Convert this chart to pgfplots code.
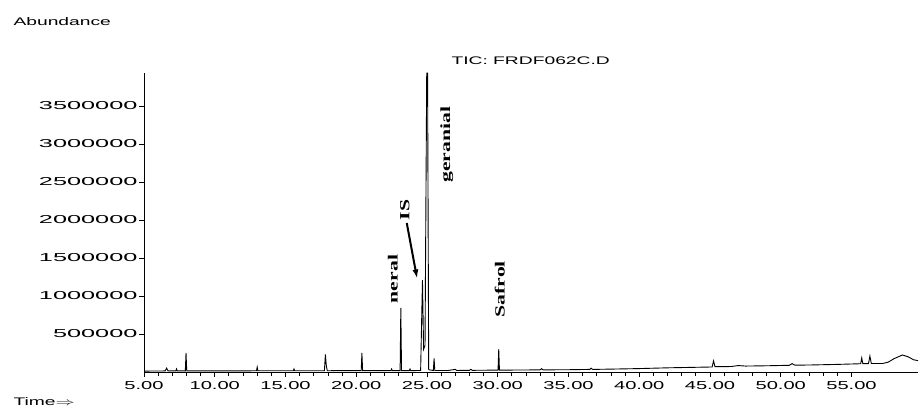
\documentclass[border=0pt]{standalone}
\usepackage{fontspec}
\usepackage{graphicx}
\usepackage{pgfplots}
\pgfplotsset{compat=1.18}
\usetikzlibrary{arrows.meta}
\setmainfont{Liberation Sans}
\newfontfamily\serifb{Liberation Serif}
\newcommand\wide[1]{\scalebox{1.75}[1]{#1}}
\newcommand\widey[1]{\scalebox{2.2}[1]{#1}}
\newcommand\peaklabel[1]{\scalebox{1.55}[1]{\serifb\bfseries\fontsize{14}{15}\selectfont #1}}

\begin{document}
\begin{tikzpicture}[x=1pt,y=1pt]
\path[use as bounding box] (0,0) rectangle (920,415);

\begin{axis}[
    at={(144pt,43pt)}, anchor=south west,
    width=774pt, height=299pt, scale only axis,
    xmin=5, xmax=59.7, ymin=0, ymax=3934000,
    axis x line*=bottom, axis y line*=left,
    axis line style={line width=1pt},
    xtick={5,10,...,55}, minor x tick num=4,
    ytick={500000,1000000,...,3500000},
    scaled y ticks=false,
    tick align=outside,
    major tick length=5pt, minor tick length=4pt,
    tick style={black, line width=0.9pt},
    /pgf/number format/assume math mode=true,
    xticklabel={\wide{\fontsize{11.5}{12}\selectfont\pgfmathprintnumber[fixed, fixed zerofill, precision=2]{\tick}}},
    yticklabel={\widey{\fontsize{11.5}{12}\selectfont\pgfmathprintnumber[fixed, 1000 sep={}]{\tick}}},
    xticklabel shift=1pt,
    yticklabel shift=-2pt,
    clip=true,
]
\addplot[black, line width=0.9pt] coordinates {
(5.0,12000) (6.5,14000) (6.6,50000) (6.7,14000)
(7.25,14000) (7.3,40000) (7.35,14000)
(7.92,15000) (7.97,250000) (8.02,15000)
(9.0,15000) (11.0,15000)
(12.95,16000) (13.0,65000) (13.05,16000)
(15.55,16000) (15.6,40000) (15.65,16000)
(17.75,17000) (17.82,230000) (17.88,90000) (17.95,17000)
(20.35,18000) (20.4,250000) (20.45,18000)
(22.45,18000) (22.5,40000) (22.55,18000)
(23.1,18000) (23.15,842000) (23.2,18000)
(23.75,18000) (23.8,40000) (23.85,18000)
(24.55,20000) (24.68,1210000) (24.76,300000)
(24.86,350000) (24.98,3934000) (25.04,3934000) (25.12,30000)
(25.45,20000) (25.5,180000) (25.55,20000)
(26.5,20000) (27.0,35000) (27.1,20000)
(28.0,22000) (28.1,35000) (28.2,22000)
(30.02,25000) (30.07,300000) (30.12,25000)
(31.5,26000) (33.0,28000) (33.1,45000) (33.2,28000)
(35.0,30000) (36.5,34000) (36.6,50000) (36.7,34000)
(38.0,38000) (40.0,45000) (42.0,55000) (44.0,62000)
(45.15,66000) (45.25,145000) (45.35,70000)
(46.5,72000) (47.0,85000) (47.5,78000)
(49.0,82000) (50.6,88000) (50.8,110000) (51.0,90000)
(52.0,92000) (54.0,100000) (55.5,108000)
(55.65,108000) (55.72,184000) (55.8,110000)
(56.2,110000) (56.3,210000) (56.4,112000)
(57.2,112000) (57.6,130000) (58.0,175000) (58.6,224000)
(59.0,200000) (59.4,160000) (59.7,150000)
};

\node[rotate=90] at (axis cs:22.58,1224000) {\peaklabel{neral}};
\node[rotate=90] at (axis cs:23.43,2130000) {\peaklabel{IS}};
\node[rotate=90] at (axis cs:26.4,2990000) {\peaklabel{geranial}};
\node[rotate=90] at (axis cs:30.14,1090000) {\peaklabel{Safrol}};
\draw[-{Latex[length=9pt,width=6pt]}, line width=2pt]
    (axis cs:23.57,1960000) -- (axis cs:24.30,1230000);
\end{axis}

\node[anchor=west] at (10,393) {\wide{\fontsize{11}{12}\selectfont Abundance}};
\node[anchor=west] at (448,354) {\wide{\fontsize{11}{12}\selectfont TIC: FRDF062C.D}};
\node[anchor=west] at (10,13) {\wide{\fontsize{11}{12}\selectfont Time$\Rightarrow$}};
\end{tikzpicture}
\end{document}
